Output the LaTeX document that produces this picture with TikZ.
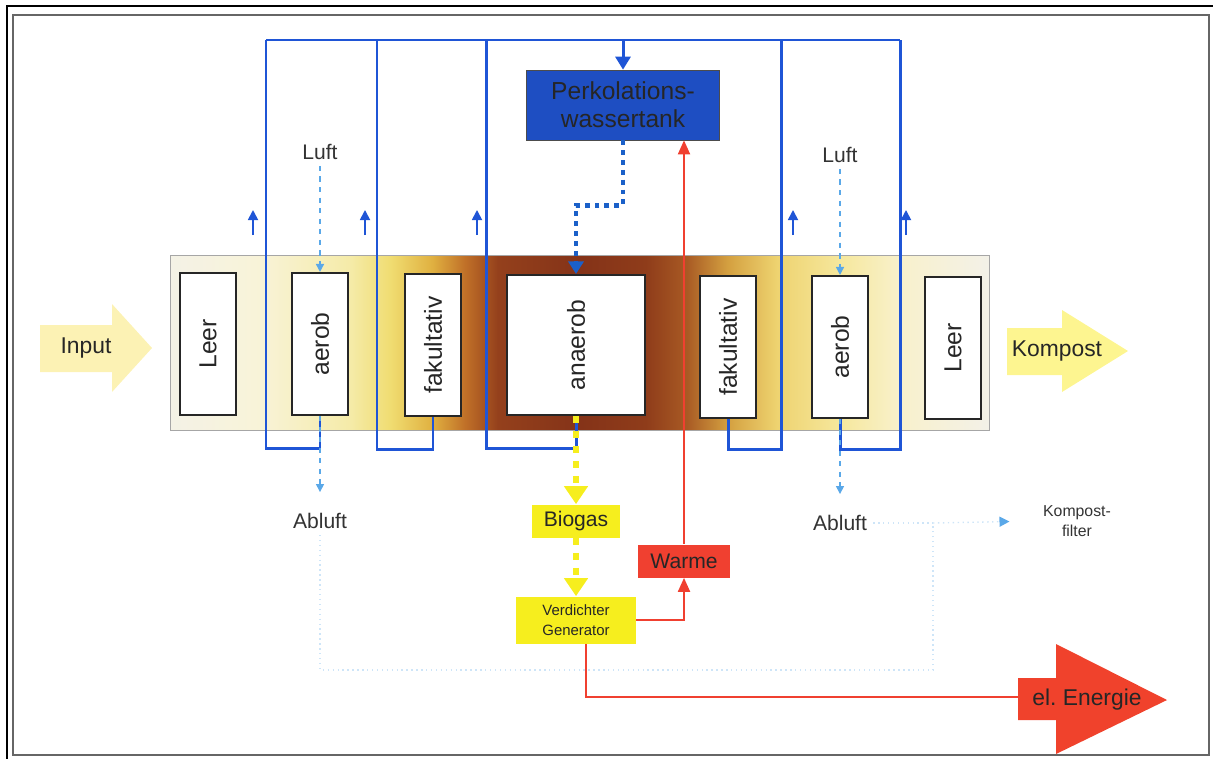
\documentclass[tikz,border=0pt]{standalone}
\usepackage{graphicx}
\usepackage{fontspec}
\setmainfont{Liberation Sans}
\usepackage{tikz}
\usetikzlibrary{arrows.meta}

\definecolor{pipeblue}{HTML}{1F55D6}
\definecolor{tankblue}{HTML}{1E4EC2}
\definecolor{airblue}{HTML}{5AA8E8}
\definecolor{heatred}{HTML}{F04030}
\definecolor{gasyellow}{HTML}{F6EE1E}
\definecolor{paleyellow}{HTML}{FCF2B4}
\definecolor{elred}{HTML}{F0422C}

\pgfdeclarehorizontalshading{bandshade}{100bp}{%
  rgb(0bp)=(0.957,0.949,0.902); rgb(25bp)=(0.957,0.949,0.902);
  rgb(30.5bp)=(0.973,0.953,0.847); rgb(36bp)=(0.961,0.922,0.659);
  rgb(38.5bp)=(0.941,0.863,0.439); rgb(41bp)=(0.878,0.690,0.251);
  rgb(43bp)=(0.753,0.439,0.157); rgb(45bp)=(0.580,0.251,0.110);
  rgb(50bp)=(0.520,0.200,0.094); rgb(54bp)=(0.560,0.235,0.102);
  rgb(56.5bp)=(0.659,0.353,0.141); rgb(59bp)=(0.831,0.627,0.251);
  rgb(62bp)=(0.933,0.827,0.439); rgb(66bp)=(0.965,0.910,0.620);
  rgb(69.5bp)=(0.973,0.945,0.800); rgb(75bp)=(0.953,0.945,0.910);
  rgb(100bp)=(0.953,0.945,0.910)}

\begin{document}
\begin{tikzpicture}[x=0.02cm, y=-0.02cm,
  band/.style={draw=gray!70, line width=0.6pt, shading=bandshade, minimum width=16.4cm, minimum height=3.5cm, inner sep=0pt},
  cell/.style={draw=black!85, line width=1.2pt, fill=white, minimum width=1.12cm, minimum height=2.84cm, inner sep=0pt, font=\fontsize{14}{16}\selectfont, text=black!85},
  tank/.style={draw=black!70, fill=tankblue, minimum width=3.86cm, minimum height=1.4cm, align=center, font=\fontsize{14}{16}\selectfont, text=black!85},
  ybox/.style={fill=gasyellow, inner sep=0pt, text=black!85},
  rbox/.style={fill=heatred, inner sep=0pt, text=black!85, font=\fontsize{12}{14}\selectfont},
  lbl/.style={font=\fontsize{12}{14}\selectfont, text=black!80},
  bigtxt/.style={font=\fontsize{13}{15}\selectfont, text=black!85},
  pipe/.style={pipeblue, line width=1.7pt},
  riser/.style={pipeblue, line width=1pt, -{Triangle[width=0.2cm,length=0.2cm]}},
  perk/.style={tankblue!90!cyan, line width=2.8pt, dash pattern=on 2.8pt off 2.8pt, -{Triangle[width=0.3cm,length=0.25cm]}},
  gas/.style={gasyellow, line width=3.4pt, dash pattern=on 4pt off 4.5pt, -{Triangle[width=0.46cm,length=0.36cm]}},
  heat/.style={heatred, line width=1.1pt, -{Triangle[width=0.24cm,length=0.28cm]}},
  air/.style={airblue, line width=0.8pt, dashed, -{Triangle[width=0.16cm,length=0.16cm]}},
  faint/.style={airblue!30, line width=0.8pt, dotted}]

\useasboundingbox (0,0) rectangle (1213,758);

% frames
\draw[black, line width=1.6pt] (7,6) rectangle (1218,762);
\draw[gray!80!black, line width=1.2pt] (13,15) rectangle (1209,755);

% in / out arrows
\fill[paleyellow] (40,325) -- (112,325) -- (112,304) -- (152,348) -- (112,392) -- (112,372) -- (40,372) -- cycle;
\node[bigtxt] (input) at (86,348) {Input};
\fill[paleyellow!80!yellow] (1007,328) -- (1062,328) -- (1062,310) -- (1128,351) -- (1062,392) -- (1062,375) -- (1007,375) -- cycle;
\node[bigtxt] (kompost) at (1057,351) {Kompost};

% reactor band
\node[band] (band) at (580,343) {};
\node[cell] (leerA) at (208,344) {\rotatebox{90}{Leer}};
\node[cell] (aerobA) at (320,344) {\rotatebox{90}{aerob}};
\node[cell] (fakA) at (433,345) {\rotatebox{90}{fakultativ}};
\node[cell, minimum width=2.76cm, minimum height=2.8cm] (anaerob) at (576,345) {\rotatebox{90}{anaerob}};
\node[cell] (fakB) at (728,347) {\rotatebox{90}{fakultativ}};
\node[cell] (aerobB) at (840,347) {\rotatebox{90}{aerob}};
\node[cell] (leerB) at (953,348) {\rotatebox{90}{Leer}};

% tank
\node[tank] (tank) at (623,105) {Perkolations-\\wassertank};

% pipes
\coordinate (p1) at (266,40);
\coordinate (p2) at (377,40);
\coordinate (p3) at (486,40);
\coordinate (p4) at (623,40);
\coordinate (p5) at (781,40);
\coordinate (p6) at (900,40);
\draw[pipe] (p1) -- (p6);
\draw[pipe] (aerobA.south) -- ++(0,32) -| (p1);
\draw[pipe] (fakA.south) -- ++(0,32) -| (p2);
\draw[pipe] (anaerob.south) -- ++(0,32) -| (p3);
\draw[pipe] (fakB.south) -- ++(0,30) -| (p5);
\draw[pipe] (aerobB.south) -- ++(0,30) -| (p6);
\draw[pipe, -{Triangle[width=0.3cm,length=0.26cm]}] (p4) -- (tank.north);
\foreach \p/\d in {p1/-13, p2/-12, p3/-9, p5/12, p6/6}
  \draw[riser] (\p) ++(\d,195) -- ++(0,-25);

% percolate
\draw[perk] (tank.south) -- ++(0,65) -| (anaerob.north);

% air
\node[lbl] (luftA) at (320,152) {Luft};
\node[lbl] (luftB) at (840,155) {Luft};
\node[lbl] (abluftA) at (320,521) {Abluft};
\node[lbl] (abluftB) at (840,523) {Abluft};
\node[font=\fontsize{9}{11}\selectfont, align=center, text=black!80] (filter) at (1077,521) {Kompost-\\filter};
\draw[air] (luftA.south) -- (aerobA.north);
\draw[air] (luftB.south) -- (aerobB.north);
\draw[air, shorten >=0.3cm] (aerobA.south) -- (abluftA.north);
\draw[air, shorten >=0.3cm] (aerobB.south) -- (abluftB.north);
\coordinate (jn) at (933,523);
\draw[faint] (abluftA.south) -- ++(0,135) -| (jn);
\draw[faint] (abluftB.east) -- (jn);
\draw[faint, -{Triangle[width=0.2cm,length=0.2cm,color=airblue]}, shorten >=0.55cm] (jn) -- (filter.west);

% biogas
\node[ybox, minimum width=1.76cm, minimum height=0.66cm, font=\fontsize{12}{14}\selectfont] (biogas) at (576,521) {Biogas};
\node[ybox, minimum width=2.4cm, minimum height=0.94cm, align=center, font=\fontsize{8.5}{11}\selectfont] (verd) at (576,620) {Verdichter\\Generator};
\node[rbox, minimum width=1.84cm, minimum height=0.66cm] (waerme) at (684,561) {Warme};
\draw[gas] (anaerob.south) -- (biogas.north);
\draw[gas] (biogas.south) -- (verd.north);

% heat and power
\draw[heat] (waerme.north) -- (waerme.north |- tank.south);
\draw[heat] (verd.east) -| (waerme.south);
\fill[elred] (1018,678) -- (1056,678) -- (1056,644) -- (1167,700) -- (1056,754) -- (1056,720) -- (1018,720) -- cycle;
\node[bigtxt] (energy) at (1087,700) {el.\ Energie};
\coordinate (etail) at (1018,697);
\draw[heat, -] ([xshift=0.2cm]verd.south) |- (etail);
\end{tikzpicture}
\end{document}
